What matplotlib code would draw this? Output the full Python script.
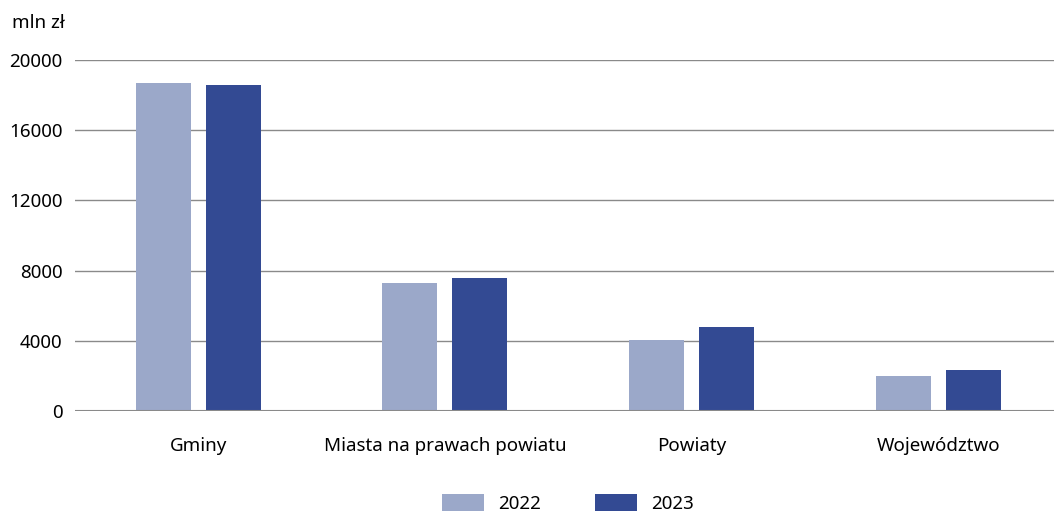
import numpy as np
import matplotlib.pyplot as plt

plt.rcParams['font.family'] = ['Noto Sans', 'DejaVu Sans']

categories = ["Gminy", "Miasta na prawach powiatu", "Powiaty", "Województwo"]
years = ["2022", "2023"]
v2022 = [18690, 7290, 4050, 1990]
v2023 = [18590, 7600, 4800, 2320]
yticks = [0, 4000, 8000, 12000, 16000, 20000]

c2022 = "#9ba8c9"
c2023 = "#334a93"

fig = plt.figure(figsize=(10.54, 5.11), dpi=100)
ax = fig.add_axes([0.0712, 0.1957, 0.9288, 0.6869])

x = np.arange(len(categories))
w = 0.223
ax.bar(x - 0.142, v2022, w, color=c2022, label=years[0], zorder=3)
ax.bar(x + 0.142, v2023, w, color=c2023, label=years[1], zorder=3)

ax.set_xlim(-0.5, 3.47)
ax.set_ylim(0, 20000)
ax.set_yticks(yticks)
ax.set_yticklabels([str(t) for t in yticks], fontsize=13.5)
ax.set_xticks(x)
ax.set_xticklabels(categories, fontsize=13.5)
ax.tick_params(axis='both', length=0)
ax.tick_params(axis='y', pad=9)
ax.tick_params(axis='x', pad=19)

ax.grid(axis='y', color='#8a8a8a', linewidth=1, zorder=0)
for s in ax.spines.values():
    s.set_visible(False)
ax.axhline(0, color='#8a8a8a', linewidth=1.5, zorder=4)

fig.text(0.011, 0.955, "mln zł", fontsize=13.5, va='center', ha='left')

fig.legend(loc='lower center', bbox_to_anchor=(0.539, -0.037), ncol=2, frameon=False,
           fontsize=13.5, handlelength=2.24, handleheight=1.1, handletextpad=0.75,
           columnspacing=2.9)

fig.savefig("out.png", dpi=100)
